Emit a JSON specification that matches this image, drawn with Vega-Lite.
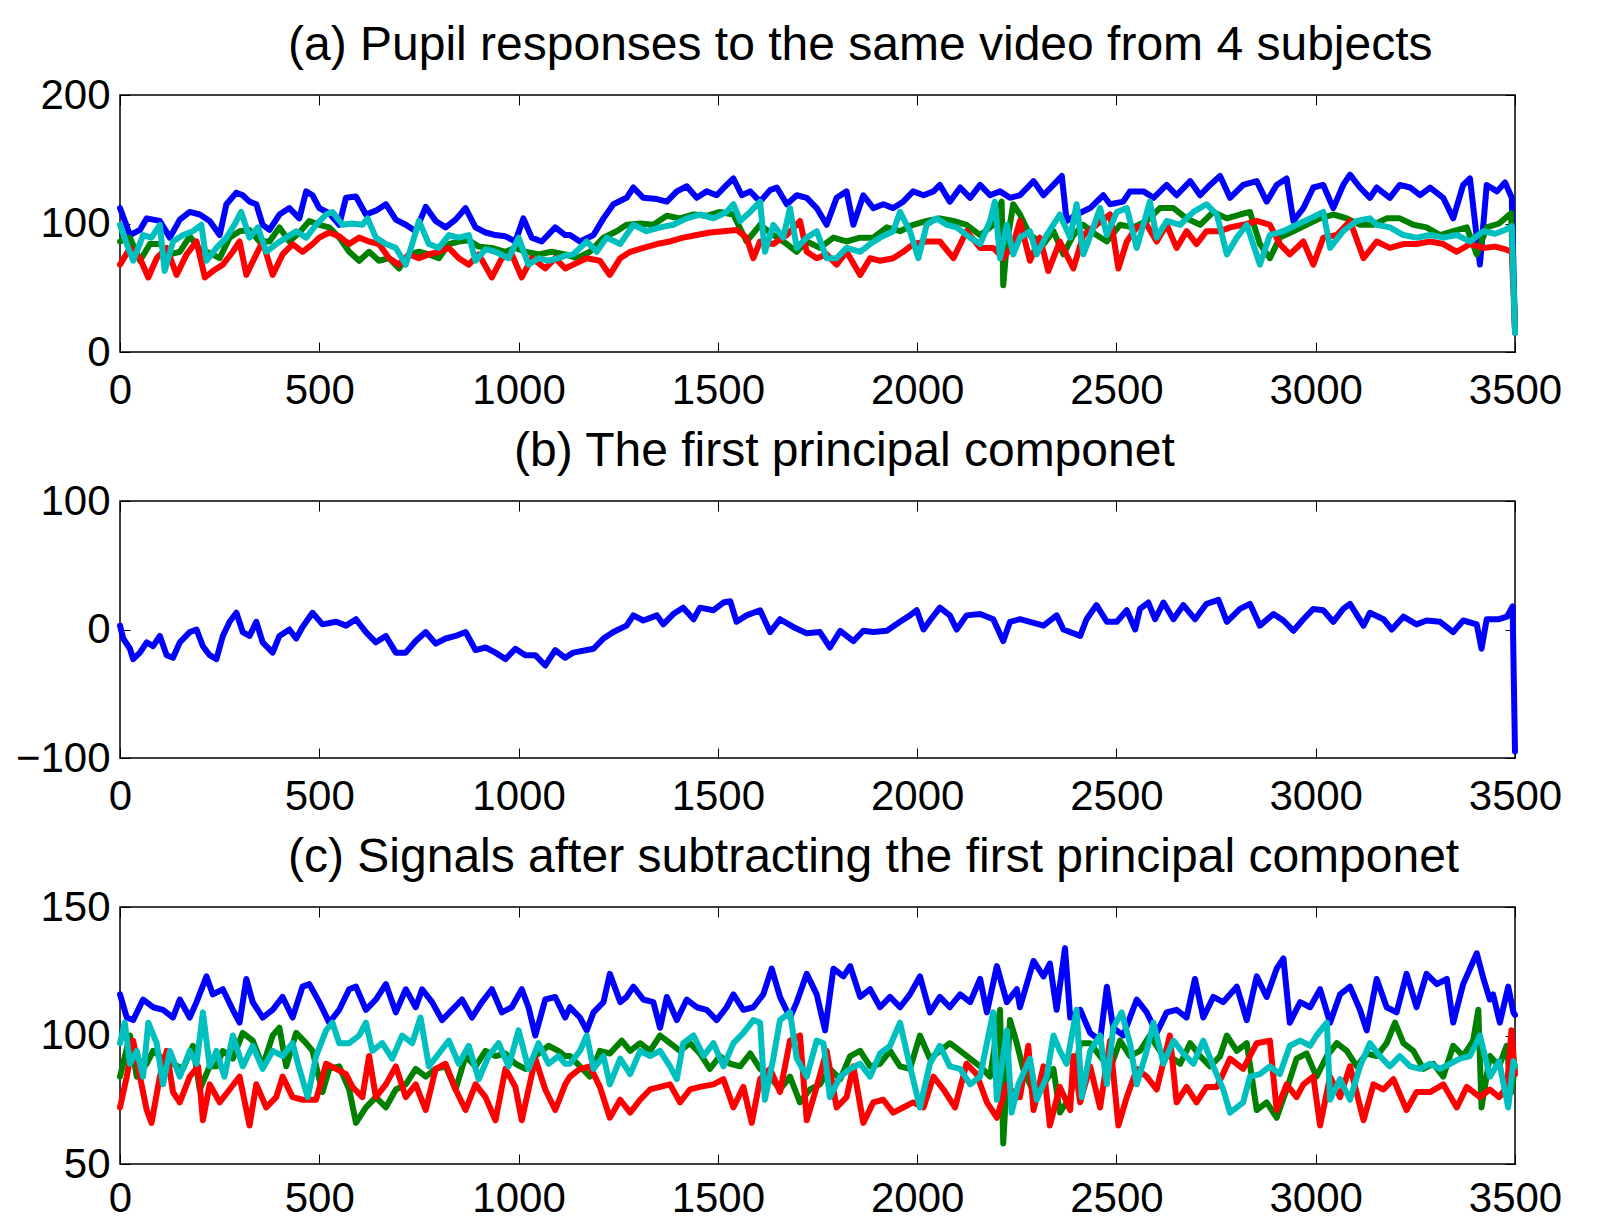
{
"$schema":"https://vega.github.io/schema/vega-lite/v6.json",
"background":"white",
"padding":{"left":14,"top":21,"right":10,"bottom":0},
"config":{
 "view":{"stroke":"black","strokeWidth":1.5},
 "font":"Liberation Sans",
 "title":{"fontSize":48,"font":"Liberation Sans","fontWeight":"normal","color":"black","anchor":"start","frame":"group","baseline":"alphabetic","offset":4},
 "axis":{"domain":false,"grid":false,"title":null,"tickSize":-10,"tickColor":"black","tickWidth":1,"labelFont":"Liberation Sans","labelFontSize":42,"labelColor":"black","labelFlush":false,"labelOverlap":false},
 "line":{"strokeWidth":6,"strokeJoin":"round","strokeCap":"round"}
},
"datasets":{
"a_b":[{"x":0,"y":112},{"x":25,"y":91},{"x":50,"y":95},{"x":67,"y":104},{"x":100,"y":102},{"x":125,"y":89},{"x":150,"y":103},{"x":175,"y":109},{"x":200,"y":107},{"x":225,"y":102},{"x":250,"y":91},{"x":267,"y":115},{"x":292,"y":124},{"x":308,"y":122},{"x":325,"y":117},{"x":342,"y":115},{"x":358,"y":99},{"x":375,"y":95},{"x":400,"y":107},{"x":425,"y":112},{"x":450,"y":104},{"x":467,"y":125},{"x":483,"y":122},{"x":500,"y":112},{"x":525,"y":108},{"x":550,"y":99},{"x":567,"y":120},{"x":592,"y":121},{"x":617,"y":107},{"x":642,"y":110},{"x":667,"y":115},{"x":692,"y":103},{"x":717,"y":99},{"x":742,"y":94},{"x":767,"y":113},{"x":792,"y":102},{"x":817,"y":97},{"x":842,"y":103},{"x":867,"y":112},{"x":892,"y":97},{"x":917,"y":93},{"x":942,"y":91},{"x":967,"y":90},{"x":992,"y":86},{"x":1012,"y":104},{"x":1033,"y":89},{"x":1058,"y":86},{"x":1092,"y":97},{"x":1117,"y":91},{"x":1129,"y":91},{"x":1154,"y":86},{"x":1188,"y":91},{"x":1213,"y":104},{"x":1238,"y":115},{"x":1271,"y":120},{"x":1288,"y":128},{"x":1313,"y":120},{"x":1347,"y":119},{"x":1372,"y":117},{"x":1397,"y":125},{"x":1422,"y":129},{"x":1447,"y":120},{"x":1472,"y":125},{"x":1497,"y":122},{"x":1522,"y":130},{"x":1539,"y":135},{"x":1560,"y":122},{"x":1581,"y":125},{"x":1606,"y":117},{"x":1631,"y":126},{"x":1648,"y":128},{"x":1673,"y":115},{"x":1698,"y":122},{"x":1723,"y":120},{"x":1748,"y":112},{"x":1773,"y":99},{"x":1798,"y":120},{"x":1823,"y":125},{"x":1840,"y":99},{"x":1865,"y":122},{"x":1890,"y":112},{"x":1915,"y":115},{"x":1940,"y":112},{"x":1965,"y":117},{"x":1990,"y":125},{"x":2016,"y":122},{"x":2041,"y":125},{"x":2057,"y":130},{"x":2082,"y":117},{"x":2108,"y":128},{"x":2133,"y":120},{"x":2158,"y":130},{"x":2183,"y":122},{"x":2208,"y":125},{"x":2233,"y":120},{"x":2258,"y":122},{"x":2292,"y":133},{"x":2317,"y":122},{"x":2342,"y":130},{"x":2363,"y":137},{"x":2375,"y":102},{"x":2400,"y":107},{"x":2434,"y":112},{"x":2467,"y":122},{"x":2484,"y":115},{"x":2517,"y":117},{"x":2534,"y":125},{"x":2568,"y":125},{"x":2593,"y":120},{"x":2626,"y":130},{"x":2651,"y":122},{"x":2685,"y":133},{"x":2710,"y":122},{"x":2735,"y":130},{"x":2760,"y":137},{"x":2785,"y":120},{"x":2818,"y":130},{"x":2852,"y":133},{"x":2877,"y":117},{"x":2902,"y":130},{"x":2927,"y":135},{"x":2944,"y":102},{"x":2969,"y":112},{"x":2994,"y":128},{"x":3019,"y":130},{"x":3044,"y":112},{"x":3069,"y":130},{"x":3086,"y":138},{"x":3111,"y":128},{"x":3136,"y":120},{"x":3153,"y":128},{"x":3186,"y":120},{"x":3211,"y":130},{"x":3237,"y":128},{"x":3262,"y":122},{"x":3287,"y":128},{"x":3320,"y":120},{"x":3345,"y":104},{"x":3370,"y":130},{"x":3387,"y":135},{"x":3412,"y":68},{"x":3429,"y":130},{"x":3455,"y":125},{"x":3475,"y":132},{"x":3492,"y":120},{"x":3500,"y":15}],
"a_g":[{"x":0,"y":86},{"x":25,"y":89},{"x":50,"y":71},{"x":75,"y":84},{"x":100,"y":84},{"x":125,"y":76},{"x":150,"y":78},{"x":175,"y":90},{"x":200,"y":80},{"x":225,"y":77},{"x":250,"y":73},{"x":275,"y":89},{"x":300,"y":94},{"x":325,"y":95},{"x":350,"y":86},{"x":375,"y":86},{"x":400,"y":97},{"x":425,"y":86},{"x":450,"y":93},{"x":475,"y":102},{"x":500,"y":99},{"x":525,"y":97},{"x":550,"y":89},{"x":575,"y":78},{"x":600,"y":71},{"x":625,"y":78},{"x":650,"y":71},{"x":675,"y":73},{"x":700,"y":65},{"x":725,"y":76},{"x":750,"y":78},{"x":775,"y":76},{"x":800,"y":73},{"x":825,"y":84},{"x":850,"y":86},{"x":875,"y":87},{"x":900,"y":82},{"x":933,"y":81},{"x":967,"y":78},{"x":992,"y":81},{"x":1017,"y":78},{"x":1050,"y":76},{"x":1083,"y":78},{"x":1117,"y":76},{"x":1146,"y":73},{"x":1179,"y":78},{"x":1213,"y":89},{"x":1246,"y":94},{"x":1271,"y":99},{"x":1305,"y":100},{"x":1338,"y":99},{"x":1372,"y":106},{"x":1405,"y":104},{"x":1439,"y":107},{"x":1472,"y":106},{"x":1505,"y":109},{"x":1539,"y":107},{"x":1572,"y":86},{"x":1606,"y":99},{"x":1639,"y":91},{"x":1673,"y":84},{"x":1698,"y":78},{"x":1723,"y":86},{"x":1756,"y":81},{"x":1790,"y":89},{"x":1823,"y":86},{"x":1857,"y":89},{"x":1890,"y":89},{"x":1924,"y":97},{"x":1957,"y":94},{"x":1990,"y":99},{"x":2024,"y":102},{"x":2057,"y":104},{"x":2091,"y":102},{"x":2124,"y":99},{"x":2158,"y":91},{"x":2191,"y":99},{"x":2212,"y":117},{"x":2216,"y":52},{"x":2225,"y":84},{"x":2241,"y":115},{"x":2258,"y":107},{"x":2283,"y":91},{"x":2317,"y":84},{"x":2342,"y":94},{"x":2367,"y":76},{"x":2392,"y":91},{"x":2417,"y":99},{"x":2450,"y":91},{"x":2476,"y":86},{"x":2509,"y":99},{"x":2542,"y":97},{"x":2576,"y":102},{"x":2609,"y":112},{"x":2643,"y":112},{"x":2676,"y":104},{"x":2710,"y":99},{"x":2743,"y":109},{"x":2777,"y":104},{"x":2810,"y":107},{"x":2835,"y":109},{"x":2860,"y":84},{"x":2885,"y":73},{"x":2910,"y":89},{"x":2944,"y":94},{"x":2977,"y":99},{"x":3011,"y":104},{"x":3044,"y":107},{"x":3078,"y":104},{"x":3111,"y":99},{"x":3145,"y":99},{"x":3178,"y":104},{"x":3211,"y":104},{"x":3245,"y":99},{"x":3278,"y":97},{"x":3312,"y":91},{"x":3345,"y":94},{"x":3379,"y":97},{"x":3404,"y":76},{"x":3429,"y":97},{"x":3460,"y":100},{"x":3490,"y":108},{"x":3500,"y":20}],
"a_r":[{"x":0,"y":68},{"x":25,"y":81},{"x":50,"y":73},{"x":71,"y":58},{"x":92,"y":73},{"x":117,"y":81},{"x":142,"y":60},{"x":167,"y":76},{"x":192,"y":86},{"x":213,"y":58},{"x":233,"y":63},{"x":258,"y":68},{"x":283,"y":78},{"x":300,"y":86},{"x":317,"y":60},{"x":342,"y":76},{"x":358,"y":86},{"x":383,"y":60},{"x":408,"y":76},{"x":433,"y":84},{"x":458,"y":78},{"x":483,"y":84},{"x":500,"y":89},{"x":525,"y":93},{"x":550,"y":90},{"x":575,"y":84},{"x":600,"y":89},{"x":625,"y":86},{"x":650,"y":84},{"x":675,"y":73},{"x":700,"y":68},{"x":725,"y":76},{"x":750,"y":73},{"x":775,"y":76},{"x":800,"y":78},{"x":825,"y":81},{"x":850,"y":73},{"x":875,"y":68},{"x":900,"y":76},{"x":933,"y":58},{"x":958,"y":73},{"x":983,"y":76},{"x":1008,"y":58},{"x":1033,"y":73},{"x":1067,"y":65},{"x":1092,"y":73},{"x":1117,"y":65},{"x":1137,"y":68},{"x":1171,"y":73},{"x":1204,"y":71},{"x":1229,"y":60},{"x":1255,"y":73},{"x":1280,"y":78},{"x":1313,"y":81},{"x":1347,"y":84},{"x":1380,"y":86},{"x":1413,"y":89},{"x":1447,"y":91},{"x":1480,"y":93},{"x":1514,"y":94},{"x":1547,"y":95},{"x":1572,"y":89},{"x":1589,"y":73},{"x":1606,"y":86},{"x":1639,"y":84},{"x":1673,"y":91},{"x":1706,"y":102},{"x":1723,"y":78},{"x":1748,"y":73},{"x":1773,"y":76},{"x":1798,"y":68},{"x":1823,"y":78},{"x":1857,"y":60},{"x":1882,"y":73},{"x":1907,"y":71},{"x":1940,"y":73},{"x":1965,"y":78},{"x":1990,"y":84},{"x":2024,"y":86},{"x":2057,"y":86},{"x":2091,"y":73},{"x":2124,"y":94},{"x":2158,"y":81},{"x":2191,"y":81},{"x":2216,"y":73},{"x":2241,"y":84},{"x":2258,"y":102},{"x":2283,"y":71},{"x":2308,"y":89},{"x":2329,"y":63},{"x":2358,"y":86},{"x":2392,"y":65},{"x":2417,"y":91},{"x":2450,"y":99},{"x":2484,"y":107},{"x":2505,"y":65},{"x":2526,"y":86},{"x":2551,"y":97},{"x":2576,"y":99},{"x":2601,"y":86},{"x":2626,"y":99},{"x":2651,"y":81},{"x":2676,"y":94},{"x":2701,"y":84},{"x":2726,"y":94},{"x":2760,"y":94},{"x":2785,"y":97},{"x":2818,"y":99},{"x":2852,"y":102},{"x":2885,"y":99},{"x":2910,"y":84},{"x":2935,"y":76},{"x":2969,"y":86},{"x":2994,"y":68},{"x":3019,"y":89},{"x":3053,"y":91},{"x":3086,"y":102},{"x":3120,"y":73},{"x":3153,"y":86},{"x":3186,"y":81},{"x":3220,"y":84},{"x":3253,"y":84},{"x":3287,"y":86},{"x":3320,"y":84},{"x":3354,"y":78},{"x":3387,"y":84},{"x":3421,"y":81},{"x":3450,"y":82},{"x":3475,"y":80},{"x":3492,"y":78},{"x":3500,"y":18}],
"a_c":[{"x":0,"y":99},{"x":17,"y":84},{"x":33,"y":71},{"x":58,"y":91},{"x":79,"y":89},{"x":100,"y":99},{"x":112,"y":63},{"x":133,"y":86},{"x":158,"y":91},{"x":183,"y":94},{"x":204,"y":99},{"x":217,"y":71},{"x":242,"y":81},{"x":267,"y":89},{"x":287,"y":99},{"x":304,"y":109},{"x":325,"y":89},{"x":346,"y":97},{"x":367,"y":78},{"x":392,"y":84},{"x":417,"y":89},{"x":442,"y":94},{"x":467,"y":89},{"x":492,"y":99},{"x":517,"y":107},{"x":533,"y":109},{"x":558,"y":99},{"x":583,"y":100},{"x":608,"y":99},{"x":621,"y":104},{"x":642,"y":89},{"x":667,"y":84},{"x":692,"y":81},{"x":717,"y":68},{"x":733,"y":84},{"x":750,"y":102},{"x":775,"y":84},{"x":800,"y":81},{"x":825,"y":91},{"x":850,"y":89},{"x":875,"y":91},{"x":892,"y":71},{"x":917,"y":80},{"x":942,"y":78},{"x":975,"y":73},{"x":1000,"y":89},{"x":1025,"y":68},{"x":1050,"y":73},{"x":1075,"y":71},{"x":1100,"y":73},{"x":1117,"y":75},{"x":1137,"y":76},{"x":1171,"y":86},{"x":1196,"y":78},{"x":1221,"y":89},{"x":1255,"y":84},{"x":1288,"y":99},{"x":1321,"y":94},{"x":1355,"y":97},{"x":1388,"y":99},{"x":1422,"y":104},{"x":1455,"y":107},{"x":1489,"y":104},{"x":1522,"y":109},{"x":1539,"y":115},{"x":1556,"y":102},{"x":1581,"y":109},{"x":1606,"y":117},{"x":1618,"y":78},{"x":1639,"y":99},{"x":1664,"y":89},{"x":1681,"y":112},{"x":1698,"y":81},{"x":1723,"y":89},{"x":1748,"y":94},{"x":1773,"y":73},{"x":1798,"y":73},{"x":1823,"y":81},{"x":1857,"y":78},{"x":1882,"y":84},{"x":1907,"y":89},{"x":1940,"y":94},{"x":1957,"y":109},{"x":1982,"y":94},{"x":2003,"y":73},{"x":2024,"y":99},{"x":2049,"y":104},{"x":2074,"y":99},{"x":2099,"y":97},{"x":2133,"y":89},{"x":2158,"y":84},{"x":2183,"y":102},{"x":2195,"y":117},{"x":2208,"y":73},{"x":2225,"y":99},{"x":2241,"y":76},{"x":2258,"y":89},{"x":2283,"y":94},{"x":2300,"y":76},{"x":2325,"y":91},{"x":2358,"y":107},{"x":2384,"y":89},{"x":2400,"y":115},{"x":2417,"y":76},{"x":2442,"y":97},{"x":2459,"y":112},{"x":2476,"y":91},{"x":2501,"y":109},{"x":2526,"y":112},{"x":2551,"y":81},{"x":2584,"y":117},{"x":2601,"y":89},{"x":2626,"y":102},{"x":2660,"y":99},{"x":2693,"y":109},{"x":2726,"y":115},{"x":2752,"y":107},{"x":2777,"y":76},{"x":2802,"y":89},{"x":2827,"y":99},{"x":2860,"y":68},{"x":2885,"y":91},{"x":2919,"y":94},{"x":2952,"y":99},{"x":2986,"y":104},{"x":3019,"y":109},{"x":3036,"y":81},{"x":3069,"y":94},{"x":3103,"y":102},{"x":3136,"y":104},{"x":3153,"y":99},{"x":3186,"y":97},{"x":3220,"y":91},{"x":3253,"y":89},{"x":3287,"y":91},{"x":3320,"y":89},{"x":3354,"y":91},{"x":3387,"y":86},{"x":3421,"y":94},{"x":3450,"y":92},{"x":3475,"y":95},{"x":3492,"y":98},{"x":3500,"y":15}],
"b_b":[{"x":0,"y":3},{"x":8,"y":-7},{"x":25,"y":-15},{"x":33,"y":-23},{"x":50,"y":-18},{"x":67,"y":-10},{"x":83,"y":-13},{"x":100,"y":-5},{"x":117,"y":-20},{"x":133,"y":-22},{"x":150,"y":-10},{"x":175,"y":-2},{"x":192,"y":0},{"x":208,"y":-13},{"x":225,"y":-20},{"x":242,"y":-23},{"x":258,"y":-5},{"x":275,"y":6},{"x":292,"y":13},{"x":308,"y":-2},{"x":325,"y":-5},{"x":342,"y":6},{"x":358,"y":-10},{"x":383,"y":-18},{"x":400,"y":-5},{"x":425,"y":0},{"x":442,"y":-7},{"x":458,"y":2},{"x":483,"y":13},{"x":508,"y":4},{"x":542,"y":6},{"x":567,"y":3},{"x":592,"y":8},{"x":617,"y":-2},{"x":642,"y":-10},{"x":667,"y":-5},{"x":692,"y":-18},{"x":717,"y":-18},{"x":742,"y":-9},{"x":767,"y":-2},{"x":792,"y":-11},{"x":817,"y":-7},{"x":842,"y":-5},{"x":867,"y":-2},{"x":892,"y":-16},{"x":917,"y":-14},{"x":942,"y":-18},{"x":967,"y":-23},{"x":992,"y":-15},{"x":1017,"y":-20},{"x":1042,"y":-20},{"x":1067,"y":-28},{"x":1092,"y":-16},{"x":1117,"y":-22},{"x":1137,"y":-18},{"x":1188,"y":-15},{"x":1213,"y":-7},{"x":1238,"y":-2},{"x":1271,"y":3},{"x":1288,"y":11},{"x":1313,"y":7},{"x":1347,"y":11},{"x":1363,"y":4},{"x":1388,"y":12},{"x":1413,"y":17},{"x":1439,"y":8},{"x":1455,"y":17},{"x":1489,"y":15},{"x":1514,"y":21},{"x":1531,"y":22},{"x":1547,"y":6},{"x":1572,"y":11},{"x":1606,"y":15},{"x":1631,"y":-2},{"x":1656,"y":8},{"x":1689,"y":2},{"x":1723,"y":-3},{"x":1756,"y":-2},{"x":1781,"y":-14},{"x":1807,"y":-1},{"x":1840,"y":-9},{"x":1865,"y":-1},{"x":1890,"y":-2},{"x":1924,"y":-1},{"x":1957,"y":6},{"x":1982,"y":11},{"x":1999,"y":15},{"x":2016,"y":0},{"x":2032,"y":7},{"x":2057,"y":17},{"x":2082,"y":11},{"x":2099,"y":0},{"x":2124,"y":11},{"x":2158,"y":12},{"x":2191,"y":8},{"x":2216,"y":-9},{"x":2233,"y":6},{"x":2258,"y":8},{"x":2283,"y":6},{"x":2317,"y":3},{"x":2350,"y":11},{"x":2367,"y":0},{"x":2409,"y":-5},{"x":2425,"y":8},{"x":2450,"y":19},{"x":2476,"y":6},{"x":2501,"y":6},{"x":2526,"y":15},{"x":2547,"y":0},{"x":2559,"y":16},{"x":2580,"y":21},{"x":2597,"y":8},{"x":2618,"y":21},{"x":2643,"y":8},{"x":2668,"y":19},{"x":2697,"y":8},{"x":2726,"y":20},{"x":2756,"y":23},{"x":2777,"y":6},{"x":2810,"y":16},{"x":2835,"y":20},{"x":2860,"y":3},{"x":2894,"y":12},{"x":2919,"y":7},{"x":2944,"y":-1},{"x":2969,"y":8},{"x":2994,"y":16},{"x":3019,"y":15},{"x":3044,"y":6},{"x":3069,"y":16},{"x":3086,"y":20},{"x":3120,"y":3},{"x":3136,"y":13},{"x":3170,"y":8},{"x":3191,"y":0},{"x":3220,"y":10},{"x":3253,"y":4},{"x":3278,"y":7},{"x":3312,"y":6},{"x":3345,"y":-2},{"x":3370,"y":7},{"x":3404,"y":4},{"x":3416,"y":-15},{"x":3429,"y":8},{"x":3460,"y":8},{"x":3480,"y":10},{"x":3494,"y":18},{"x":3500,"y":-95}],
"c_b":[{"x":0,"y":116},{"x":17,"y":107},{"x":33,"y":106},{"x":58,"y":114},{"x":83,"y":111},{"x":108,"y":110},{"x":133,"y":107},{"x":150,"y":114},{"x":175,"y":107},{"x":192,"y":113},{"x":217,"y":123},{"x":233,"y":116},{"x":258,"y":118},{"x":283,"y":110},{"x":300,"y":105},{"x":317,"y":122},{"x":333,"y":113},{"x":358,"y":107},{"x":383,"y":110},{"x":408,"y":115},{"x":433,"y":107},{"x":458,"y":119},{"x":475,"y":120},{"x":500,"y":113},{"x":525,"y":105},{"x":550,"y":110},{"x":575,"y":118},{"x":592,"y":119},{"x":617,"y":110},{"x":642,"y":114},{"x":667,"y":120},{"x":692,"y":109},{"x":717,"y":118},{"x":742,"y":111},{"x":758,"y":118},{"x":783,"y":113},{"x":808,"y":106},{"x":833,"y":110},{"x":858,"y":114},{"x":883,"y":107},{"x":908,"y":113},{"x":933,"y":118},{"x":958,"y":109},{"x":983,"y":111},{"x":1008,"y":118},{"x":1025,"y":111},{"x":1042,"y":100},{"x":1067,"y":114},{"x":1092,"y":115},{"x":1117,"y":107},{"x":1129,"y":111},{"x":1154,"y":107},{"x":1171,"y":102},{"x":1188,"y":109},{"x":1213,"y":113},{"x":1229,"y":124},{"x":1255,"y":113},{"x":1271,"y":115},{"x":1288,"y":119},{"x":1313,"y":114},{"x":1338,"y":113},{"x":1355,"y":103},{"x":1372,"y":115},{"x":1397,"y":106},{"x":1422,"y":114},{"x":1447,"y":111},{"x":1472,"y":110},{"x":1497,"y":106},{"x":1522,"y":111},{"x":1539,"y":116},{"x":1564,"y":110},{"x":1589,"y":111},{"x":1614,"y":116},{"x":1635,"y":126},{"x":1656,"y":115},{"x":1681,"y":107},{"x":1698,"y":113},{"x":1723,"y":124},{"x":1748,"y":116},{"x":1769,"y":102},{"x":1790,"y":126},{"x":1815,"y":123},{"x":1832,"y":127},{"x":1857,"y":115},{"x":1882,"y":118},{"x":1907,"y":111},{"x":1932,"y":115},{"x":1957,"y":111},{"x":1982,"y":116},{"x":2007,"y":123},{"x":2032,"y":109},{"x":2057,"y":115},{"x":2082,"y":111},{"x":2108,"y":116},{"x":2133,"y":113},{"x":2158,"y":122},{"x":2175,"y":109},{"x":2200,"y":127},{"x":2225,"y":113},{"x":2250,"y":118},{"x":2258,"y":111},{"x":2292,"y":129},{"x":2317,"y":123},{"x":2333,"y":128},{"x":2350,"y":110},{"x":2371,"y":134},{"x":2384,"y":107},{"x":2409,"y":110},{"x":2434,"y":101},{"x":2459,"y":98},{"x":2476,"y":119},{"x":2492,"y":103},{"x":2517,"y":100},{"x":2551,"y":114},{"x":2576,"y":109},{"x":2601,"y":101},{"x":2626,"y":109},{"x":2651,"y":110},{"x":2676,"y":107},{"x":2697,"y":122},{"x":2718,"y":107},{"x":2743,"y":115},{"x":2768,"y":113},{"x":2802,"y":119},{"x":2827,"y":106},{"x":2852,"y":123},{"x":2877,"y":115},{"x":2902,"y":126},{"x":2919,"y":130},{"x":2935,"y":105},{"x":2961,"y":113},{"x":2986,"y":111},{"x":3011,"y":118},{"x":3036,"y":105},{"x":3061,"y":116},{"x":3086,"y":119},{"x":3111,"y":110},{"x":3128,"y":102},{"x":3153,"y":122},{"x":3178,"y":111},{"x":3203,"y":109},{"x":3228,"y":124},{"x":3253,"y":111},{"x":3278,"y":124},{"x":3304,"y":120},{"x":3329,"y":122},{"x":3345,"y":105},{"x":3370,"y":120},{"x":3387,"y":126},{"x":3404,"y":132},{"x":3421,"y":122},{"x":3437,"y":114},{"x":3445,"y":116},{"x":3462,"y":105},{"x":3483,"y":119},{"x":3496,"y":109},{"x":3500,"y":108}],
"c_g":[{"x":0,"y":84},{"x":25,"y":100},{"x":42,"y":84},{"x":67,"y":89},{"x":83,"y":94},{"x":108,"y":91},{"x":133,"y":89},{"x":158,"y":87},{"x":183,"y":96},{"x":200,"y":79},{"x":225,"y":88},{"x":242,"y":88},{"x":258,"y":94},{"x":283,"y":91},{"x":308,"y":101},{"x":333,"y":98},{"x":358,"y":88},{"x":383,"y":100},{"x":400,"y":103},{"x":417,"y":88},{"x":442,"y":101},{"x":467,"y":97},{"x":483,"y":94},{"x":508,"y":78},{"x":525,"y":87},{"x":550,"y":88},{"x":575,"y":79},{"x":592,"y":66},{"x":617,"y":72},{"x":642,"y":76},{"x":667,"y":72},{"x":692,"y":79},{"x":717,"y":81},{"x":742,"y":87},{"x":767,"y":84},{"x":792,"y":87},{"x":817,"y":88},{"x":842,"y":79},{"x":867,"y":92},{"x":892,"y":88},{"x":917,"y":94},{"x":942,"y":92},{"x":967,"y":93},{"x":992,"y":89},{"x":1017,"y":87},{"x":1042,"y":92},{"x":1075,"y":96},{"x":1100,"y":94},{"x":1117,"y":92},{"x":1129,"y":92},{"x":1154,"y":88},{"x":1179,"y":84},{"x":1204,"y":94},{"x":1229,"y":93},{"x":1259,"y":98},{"x":1280,"y":94},{"x":1305,"y":97},{"x":1330,"y":94},{"x":1355,"y":100},{"x":1380,"y":97},{"x":1405,"y":94},{"x":1430,"y":97},{"x":1455,"y":93},{"x":1480,"y":87},{"x":1505,"y":92},{"x":1531,"y":89},{"x":1556,"y":88},{"x":1581,"y":93},{"x":1606,"y":87},{"x":1631,"y":84},{"x":1656,"y":79},{"x":1681,"y":84},{"x":1706,"y":74},{"x":1731,"y":79},{"x":1756,"y":81},{"x":1781,"y":87},{"x":1807,"y":83},{"x":1832,"y":92},{"x":1857,"y":94},{"x":1882,"y":88},{"x":1907,"y":89},{"x":1932,"y":94},{"x":1957,"y":88},{"x":1982,"y":87},{"x":2007,"y":100},{"x":2032,"y":91},{"x":2057,"y":94},{"x":2082,"y":97},{"x":2108,"y":94},{"x":2133,"y":91},{"x":2158,"y":88},{"x":2183,"y":84},{"x":2208,"y":110},{"x":2216,"y":58},{"x":2233,"y":106},{"x":2250,"y":97},{"x":2266,"y":87},{"x":2292,"y":78},{"x":2317,"y":81},{"x":2342,"y":87},{"x":2358,"y":70},{"x":2384,"y":76},{"x":2409,"y":97},{"x":2434,"y":97},{"x":2459,"y":92},{"x":2484,"y":87},{"x":2509,"y":98},{"x":2534,"y":92},{"x":2559,"y":94},{"x":2584,"y":100},{"x":2609,"y":94},{"x":2634,"y":92},{"x":2660,"y":89},{"x":2685,"y":97},{"x":2710,"y":92},{"x":2735,"y":88},{"x":2760,"y":92},{"x":2777,"y":100},{"x":2802,"y":94},{"x":2827,"y":97},{"x":2852,"y":71},{"x":2877,"y":74},{"x":2902,"y":68},{"x":2927,"y":79},{"x":2952,"y":91},{"x":2977,"y":93},{"x":3002,"y":84},{"x":3028,"y":92},{"x":3053,"y":97},{"x":3078,"y":94},{"x":3103,"y":88},{"x":3128,"y":93},{"x":3153,"y":92},{"x":3178,"y":97},{"x":3199,"y":105},{"x":3220,"y":97},{"x":3245,"y":94},{"x":3270,"y":87},{"x":3295,"y":89},{"x":3320,"y":84},{"x":3345,"y":96},{"x":3370,"y":92},{"x":3395,"y":98},{"x":3408,"y":110},{"x":3416,"y":72},{"x":3437,"y":92},{"x":3460,"y":88},{"x":3479,"y":96},{"x":3491,"y":78},{"x":3500,"y":88}],
"c_r":[{"x":0,"y":72},{"x":17,"y":84},{"x":33,"y":98},{"x":50,"y":84},{"x":67,"y":71},{"x":79,"y":66},{"x":100,"y":84},{"x":117,"y":94},{"x":133,"y":78},{"x":150,"y":74},{"x":175,"y":84},{"x":196,"y":88},{"x":208,"y":67},{"x":225,"y":81},{"x":250,"y":74},{"x":275,"y":79},{"x":300,"y":84},{"x":325,"y":65},{"x":342,"y":81},{"x":367,"y":72},{"x":392,"y":76},{"x":408,"y":84},{"x":433,"y":76},{"x":458,"y":75},{"x":492,"y":75},{"x":517,"y":89},{"x":542,"y":87},{"x":567,"y":85},{"x":583,"y":80},{"x":608,"y":76},{"x":625,"y":92},{"x":642,"y":76},{"x":667,"y":81},{"x":692,"y":88},{"x":717,"y":76},{"x":742,"y":81},{"x":767,"y":71},{"x":792,"y":87},{"x":817,"y":89},{"x":842,"y":79},{"x":867,"y":71},{"x":892,"y":81},{"x":917,"y":76},{"x":942,"y":67},{"x":967,"y":87},{"x":992,"y":80},{"x":1008,"y":67},{"x":1042,"y":91},{"x":1067,"y":79},{"x":1092,"y":71},{"x":1117,"y":81},{"x":1129,"y":84},{"x":1154,"y":87},{"x":1179,"y":88},{"x":1204,"y":80},{"x":1229,"y":68},{"x":1255,"y":75},{"x":1280,"y":70},{"x":1305,"y":75},{"x":1330,"y":79},{"x":1355,"y":80},{"x":1380,"y":81},{"x":1405,"y":74},{"x":1430,"y":79},{"x":1455,"y":80},{"x":1489,"y":81},{"x":1514,"y":83},{"x":1539,"y":72},{"x":1564,"y":80},{"x":1585,"y":66},{"x":1606,"y":83},{"x":1631,"y":87},{"x":1656,"y":78},{"x":1681,"y":98},{"x":1706,"y":100},{"x":1723,"y":67},{"x":1748,"y":80},{"x":1773,"y":94},{"x":1798,"y":72},{"x":1823,"y":76},{"x":1840,"y":88},{"x":1865,"y":66},{"x":1890,"y":74},{"x":1915,"y":75},{"x":1940,"y":70},{"x":1965,"y":72},{"x":1990,"y":74},{"x":2016,"y":72},{"x":2041,"y":84},{"x":2066,"y":79},{"x":2095,"y":72},{"x":2124,"y":89},{"x":2149,"y":85},{"x":2175,"y":74},{"x":2200,"y":68},{"x":2225,"y":81},{"x":2250,"y":76},{"x":2258,"y":76},{"x":2279,"y":96},{"x":2292,"y":71},{"x":2317,"y":88},{"x":2333,"y":65},{"x":2358,"y":80},{"x":2384,"y":71},{"x":2392,"y":92},{"x":2409,"y":74},{"x":2434,"y":88},{"x":2459,"y":72},{"x":2484,"y":98},{"x":2505,"y":65},{"x":2526,"y":76},{"x":2551,"y":87},{"x":2576,"y":84},{"x":2601,"y":79},{"x":2634,"y":100},{"x":2651,"y":74},{"x":2676,"y":80},{"x":2701,"y":74},{"x":2726,"y":80},{"x":2752,"y":80},{"x":2785,"y":91},{"x":2818,"y":87},{"x":2852,"y":97},{"x":2885,"y":98},{"x":2902,"y":71},{"x":2927,"y":81},{"x":2952,"y":76},{"x":2969,"y":81},{"x":2994,"y":84},{"x":3011,"y":65},{"x":3036,"y":84},{"x":3061,"y":76},{"x":3086,"y":88},{"x":3120,"y":67},{"x":3145,"y":81},{"x":3170,"y":79},{"x":3195,"y":83},{"x":3228,"y":71},{"x":3253,"y":78},{"x":3287,"y":78},{"x":3320,"y":81},{"x":3354,"y":72},{"x":3379,"y":80},{"x":3412,"y":76},{"x":3437,"y":79},{"x":3460,"y":76},{"x":3480,"y":80},{"x":3491,"y":102},{"x":3500,"y":85}],
"c_c":[{"x":0,"y":97},{"x":12,"y":105},{"x":25,"y":89},{"x":42,"y":94},{"x":58,"y":84},{"x":71,"y":105},{"x":92,"y":97},{"x":108,"y":81},{"x":125,"y":94},{"x":150,"y":84},{"x":175,"y":94},{"x":192,"y":89},{"x":208,"y":109},{"x":225,"y":88},{"x":242,"y":94},{"x":262,"y":84},{"x":283,"y":100},{"x":308,"y":88},{"x":333,"y":96},{"x":358,"y":87},{"x":383,"y":94},{"x":408,"y":92},{"x":433,"y":97},{"x":450,"y":87},{"x":471,"y":76},{"x":492,"y":92},{"x":517,"y":102},{"x":533,"y":105},{"x":550,"y":97},{"x":575,"y":97},{"x":600,"y":100},{"x":617,"y":105},{"x":633,"y":94},{"x":658,"y":97},{"x":683,"y":91},{"x":708,"y":100},{"x":733,"y":97},{"x":754,"y":107},{"x":775,"y":88},{"x":800,"y":93},{"x":825,"y":98},{"x":850,"y":89},{"x":875,"y":96},{"x":900,"y":83},{"x":925,"y":92},{"x":950,"y":97},{"x":975,"y":88},{"x":1000,"y":102},{"x":1025,"y":87},{"x":1050,"y":97},{"x":1075,"y":89},{"x":1100,"y":92},{"x":1117,"y":89},{"x":1129,"y":89},{"x":1154,"y":94},{"x":1171,"y":100},{"x":1188,"y":87},{"x":1213,"y":92},{"x":1229,"y":81},{"x":1255,"y":91},{"x":1280,"y":85},{"x":1305,"y":94},{"x":1330,"y":92},{"x":1355,"y":94},{"x":1380,"y":88},{"x":1397,"y":83},{"x":1413,"y":97},{"x":1439,"y":100},{"x":1464,"y":92},{"x":1489,"y":97},{"x":1514,"y":88},{"x":1539,"y":97},{"x":1564,"y":101},{"x":1589,"y":106},{"x":1606,"y":105},{"x":1618,"y":75},{"x":1639,"y":91},{"x":1656,"y":106},{"x":1681,"y":109},{"x":1698,"y":91},{"x":1723,"y":84},{"x":1748,"y":98},{"x":1765,"y":97},{"x":1781,"y":76},{"x":1807,"y":84},{"x":1832,"y":87},{"x":1857,"y":89},{"x":1882,"y":84},{"x":1907,"y":93},{"x":1932,"y":96},{"x":1957,"y":105},{"x":1982,"y":88},{"x":2007,"y":72},{"x":2032,"y":89},{"x":2057,"y":96},{"x":2082,"y":88},{"x":2108,"y":87},{"x":2133,"y":81},{"x":2158,"y":84},{"x":2175,"y":97},{"x":2191,"y":109},{"x":2200,"y":75},{"x":2225,"y":102},{"x":2237,"y":70},{"x":2254,"y":81},{"x":2283,"y":91},{"x":2300,"y":75},{"x":2325,"y":84},{"x":2342,"y":100},{"x":2358,"y":94},{"x":2375,"y":89},{"x":2400,"y":110},{"x":2413,"y":76},{"x":2434,"y":94},{"x":2459,"y":100},{"x":2476,"y":81},{"x":2492,"y":103},{"x":2513,"y":109},{"x":2534,"y":97},{"x":2551,"y":81},{"x":2576,"y":94},{"x":2593,"y":105},{"x":2618,"y":89},{"x":2643,"y":98},{"x":2668,"y":93},{"x":2693,"y":89},{"x":2718,"y":98},{"x":2743,"y":88},{"x":2768,"y":79},{"x":2785,"y":70},{"x":2818,"y":74},{"x":2835,"y":84},{"x":2860,"y":85},{"x":2885,"y":88},{"x":2910,"y":85},{"x":2935,"y":96},{"x":2961,"y":98},{"x":2986,"y":96},{"x":3002,"y":100},{"x":3028,"y":105},{"x":3036,"y":75},{"x":3061,"y":83},{"x":3086,"y":75},{"x":3111,"y":88},{"x":3136,"y":97},{"x":3161,"y":92},{"x":3186,"y":88},{"x":3211,"y":92},{"x":3237,"y":88},{"x":3262,"y":87},{"x":3287,"y":89},{"x":3312,"y":87},{"x":3337,"y":89},{"x":3362,"y":91},{"x":3387,"y":92},{"x":3412,"y":100},{"x":3437,"y":84},{"x":3460,"y":90},{"x":3483,"y":72},{"x":3496,"y":90},{"x":3500,"y":88}]
},
"vconcat":[
{
 "width":1395,"height":257,
 "title":{"text":"(a) Pupil responses to the same video from 4 subjects","dx":168},
 "resolve":{"axis":{"x":"independent","y":"independent"}},
 "layer":[
  {"data":{"name":"a_b"},"mark":{"type":"line","color":"#0000ff"},
   "encoding":{"x":{"field":"x","type":"quantitative","scale":{"domain":[0,3500],"nice":false,"zero":false},"axis":{"orient":"bottom","values":[0,500,1000,1500,2000,2500,3000,3500],"labelPadding":28,"format":"d"}},
               "y":{"field":"y","type":"quantitative","scale":{"domain":[0,200],"nice":false},"axis":{"orient":"left","values":[0,100,200],"labelPadding":20,"format":"d"}}}},
  {"data":{"name":"a_g"},"mark":{"type":"line","color":"#008000"},
   "encoding":{"x":{"field":"x","type":"quantitative","axis":{"orient":"top","values":[0,500,1000,1500,2000,2500,3000,3500],"labels":false}},
               "y":{"field":"y","type":"quantitative","axis":{"orient":"right","values":[0,100,200],"labels":false}}}},
  {"data":{"name":"a_r"},"mark":{"type":"line","color":"#ff0000"},
   "encoding":{"x":{"field":"x","type":"quantitative","axis":null},"y":{"field":"y","type":"quantitative","axis":null}}},
  {"data":{"name":"a_c"},"mark":{"type":"line","color":"#00bfbf"},
   "encoding":{"x":{"field":"x","type":"quantitative","axis":null},"y":{"field":"y","type":"quantitative","axis":null}}}
 ]
},
{
 "width":1395,"height":257,
 "title":{"text":"(b) The first principal componet","dx":394},
 "resolve":{"axis":{"x":"independent","y":"independent"}},
 "layer":[
  {"data":{"name":"b_b"},"mark":{"type":"line","color":"#0000ff"},
   "encoding":{"x":{"field":"x","type":"quantitative","scale":{"domain":[0,3500],"nice":false,"zero":false},"axis":{"orient":"bottom","values":[0,500,1000,1500,2000,2500,3000,3500],"labelPadding":28,"format":"d"}},
               "y":{"field":"y","type":"quantitative","scale":{"domain":[-100,100],"nice":false},"axis":{"orient":"left","values":[-100,0,100],"labelPadding":20,"format":"d"}}}},
  {"data":{"name":"b_b"},"mark":{"type":"line","color":"#0000ff","opacity":0},
   "encoding":{"x":{"field":"x","type":"quantitative","axis":{"orient":"top","values":[0,500,1000,1500,2000,2500,3000,3500],"labels":false}},
               "y":{"field":"y","type":"quantitative","axis":{"orient":"right","values":[-100,0,100],"labels":false}}}}
 ]
},
{
 "width":1395,"height":257,
 "title":{"text":"(c) Signals after subtracting the first principal componet","dx":168},
 "resolve":{"axis":{"x":"independent","y":"independent"}},
 "layer":[
  {"data":{"name":"c_b"},"mark":{"type":"line","color":"#0000ff"},
   "encoding":{"x":{"field":"x","type":"quantitative","scale":{"domain":[0,3500],"nice":false,"zero":false},"axis":{"orient":"bottom","values":[0,500,1000,1500,2000,2500,3000,3500],"labelPadding":24,"format":"d"}},
               "y":{"field":"y","type":"quantitative","scale":{"domain":[50,150],"nice":false,"zero":false},"axis":{"orient":"left","values":[50,100,150],"labelPadding":20,"format":"d"}}}},
  {"data":{"name":"c_g"},"mark":{"type":"line","color":"#008000"},
   "encoding":{"x":{"field":"x","type":"quantitative","axis":{"orient":"top","values":[0,500,1000,1500,2000,2500,3000,3500],"labels":false}},
               "y":{"field":"y","type":"quantitative","axis":{"orient":"right","values":[50,100,150],"labels":false}}}},
  {"data":{"name":"c_r"},"mark":{"type":"line","color":"#ff0000"},
   "encoding":{"x":{"field":"x","type":"quantitative","axis":null},"y":{"field":"y","type":"quantitative","axis":null}}},
  {"data":{"name":"c_c"},"mark":{"type":"line","color":"#00bfbf"},
   "encoding":{"x":{"field":"x","type":"quantitative","axis":null},"y":{"field":"y","type":"quantitative","axis":null}}}
 ]
}
],
"spacing":15
}
